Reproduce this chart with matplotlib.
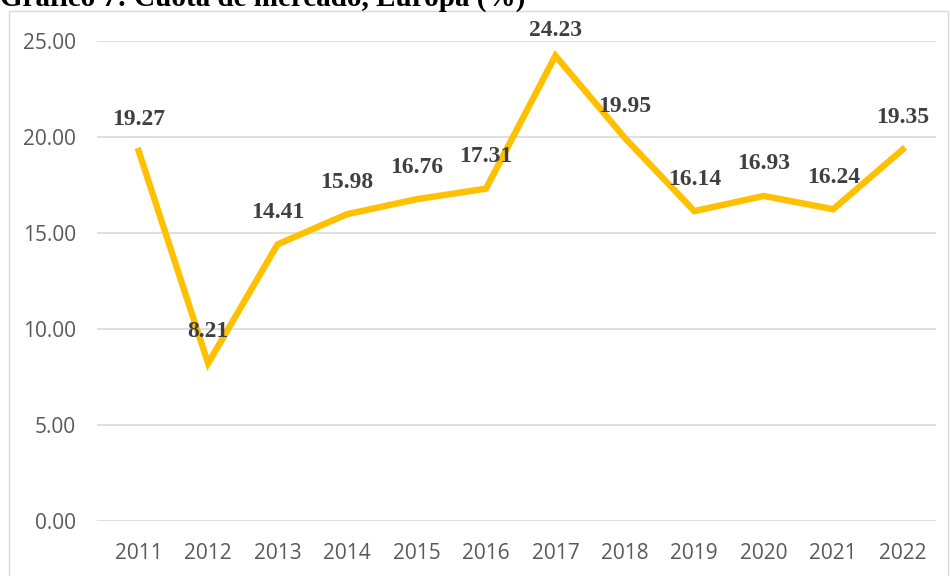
import matplotlib.pyplot as plt
from matplotlib.patches import Rectangle

years = ['2011', '2012', '2013', '2014', '2015', '2016',
         '2017', '2018', '2019', '2020', '2021', '2022']
cuota = [19.27, 8.21, 14.41, 15.98, 16.76, 17.31,
         24.23, 19.95, 16.14, 16.93, 16.24, 19.35]
yticks = [0, 5, 10, 15, 20, 25]

fig = plt.figure(figsize=(9.5, 5.76), dpi=100)
ax = fig.add_axes([97/950, 1 - 521/576, (936 - 97)/950, (521 - 41)/576])

x = list(range(len(years)))
ax.plot(x, cuota, color='#FFC000', lw=4.6, solid_joinstyle='miter', zorder=3)

for xi, v in zip(x, cuota):
    # excel keeps the top label inside the chart area
    dy = 18 if v > 24 else 23
    ax.annotate('%.2f' % v, (xi, v), xytext=(0, dy), textcoords='offset points',
                ha='center', va='center', fontsize=17, fontweight='bold',
                family='Liberation Serif', color='#404040', zorder=4)

ax.set_xlim(-0.6, 11.48)
ax.set_ylim(0, 25)
ax.set_yticks(yticks)
ax.set_yticklabels(['%.2f' % t for t in yticks])
ax.set_xticks(x)
ax.set_xticklabels(years)
ax.grid(axis='y', color='#D9D9D9', lw=1.2)
ax.set_axisbelow(True)
for s in ax.spines.values():
    s.set_visible(False)
ax.tick_params(length=0, labelsize=15, labelcolor='#595959')
ax.tick_params(axis='x', pad=16)
ax.tick_params(axis='y', pad=15)
for lab in ax.get_xticklabels() + ax.get_yticklabels():
    lab.set_family('Open Sans')

# chart frame
fig.patches.append(Rectangle((9/950, -0.02), 939/950, 1 - 11/576 + 0.02,
                             transform=fig.transFigure, fill=False,
                             edgecolor='#D9D9D9', lw=1))

fig.text(0.0, 1 - 6/576, 'Gráfico 7: Cuota de mercado, Europa (%)',
         family='Liberation Serif', fontweight='bold', fontsize=21,
         ha='left', va='baseline', color='black')

fig.savefig('out.png', dpi=100)
